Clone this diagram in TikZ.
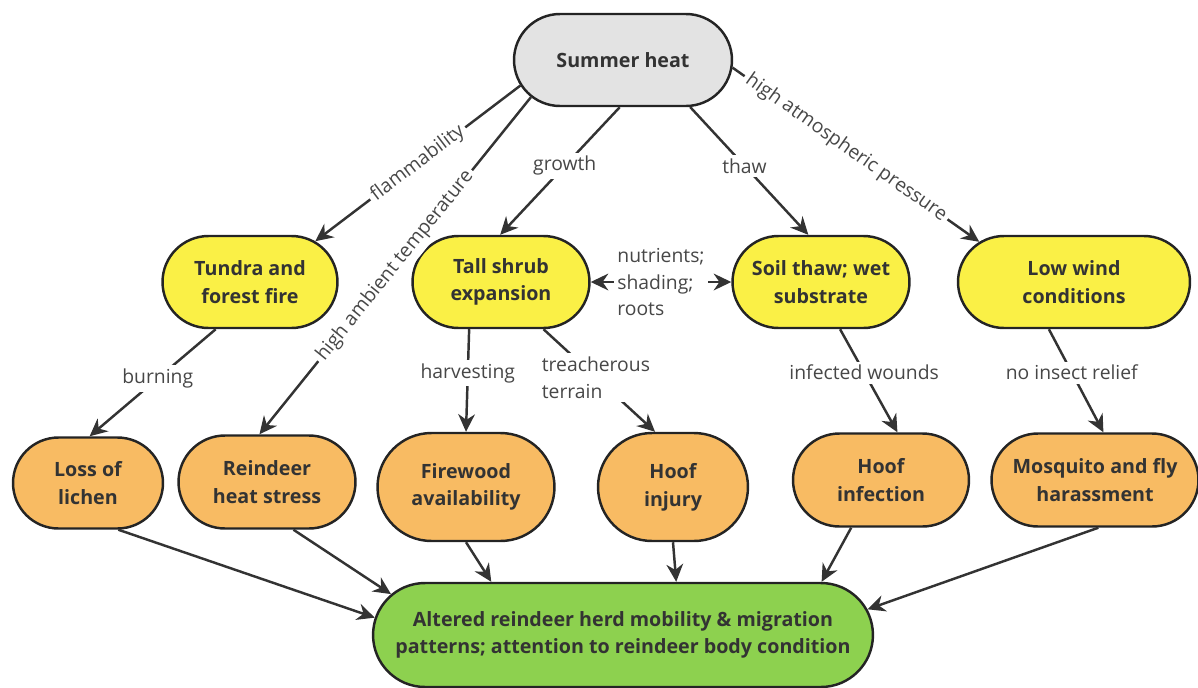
\documentclass[tikz,border=0pt]{standalone}
\usepackage{fontspec}
\setmainfont{Open Sans}
\usetikzlibrary{shapes.misc,arrows.meta}
\definecolor{heatgray}{HTML}{E3E3E3}
\definecolor{driveryellow}{HTML}{FAF046}
\definecolor{impactorange}{HTML}{F8BB63}
\definecolor{outcomegreen}{HTML}{8DD14F}
\definecolor{inkgray}{HTML}{333333}

\begin{document}
\begin{tikzpicture}[x=0.02cm,y=-0.02cm,
  >={Stealth[length=10pt,width=9.5pt]},
  box/.style={rounded rectangle, draw=inkgray!70!black, line width=1.4pt, inner sep=0pt,
    align=center, text=inkgray, font=\fontsize{11.2}{15.8}\selectfont\bfseries},
  lbl/.style={fill=white, text=inkgray!90, inner sep=2pt, font=\fontsize{11}{15.3}\selectfont},
  link/.style={draw=inkgray, line width=1.4pt, ->}]
\useasboundingbox (0,0) rectangle (1198,687);
% top
\node[box, fill=heatgray, minimum width=4.36cm, minimum height=1.84cm] (sh) at (623,60) {Summer heat};
% drivers
\node[box, fill=driveryellow, minimum width=3.5cm, minimum height=1.84cm] (tf) at (250,282) {Tundra and\\forest fire};
\node[box, fill=driveryellow, minimum width=3.54cm, minimum height=1.84cm] (ts) at (501,282) {Tall shrub\\expansion};
\node[box, fill=driveryellow, minimum width=3.54cm, minimum height=1.84cm] (st) at (821,282) {Soil thaw; wet\\substrate};
\node[box, fill=driveryellow, minimum width=4.64cm, minimum height=1.84cm] (lw) at (1074,282) {Low wind\\conditions};
% impacts
\node[box, fill=impactorange, minimum width=3.0cm, minimum height=1.82cm] (ll) at (88,483) {Loss of\\lichen};
\node[box, fill=impactorange, minimum width=3.54cm, minimum height=1.86cm] (rh) at (267,482) {Reindeer\\heat stress};
\node[box, fill=impactorange, minimum width=3.54cm, minimum height=2.16cm] (fw) at (466,487) {Firewood\\availability};
\node[box, fill=impactorange, minimum width=3.0cm, minimum height=2.16cm] (hi) at (673,487) {Hoof\\injury};
\node[box, fill=impactorange, minimum width=3.52cm, minimum height=1.86cm] (hf) at (881,480) {Hoof\\infection};
\node[box, fill=impactorange, minimum width=4.14cm, minimum height=1.86cm] (mq) at (1095,480) {Mosquito and fly\\harassment};
% outcome
\node[box, fill=outcomegreen, minimum width=10cm, minimum height=2.08cm] (ar) at (623,635) {Altered reindeer herd mobility \& migration\\patterns; attention to reindeer body condition};

\draw[link] (sh.194) -- node[lbl, sloped] {flammability} (tf.32);
\draw[link] (sh.202) -- node[lbl, sloped] {high ambient temperature} (rh.99);
\draw[link] (sh.266) -- node[lbl, pos=0.46] {growth} (ts.91);
\draw[link] (sh.325) -- node[lbl, pos=0.46] {thaw} (st.105);
\draw[link] (sh.356) -- node[lbl, sloped, pos=0.46] {high atmospheric pressure} (lw.157);
\draw[link, <->] (ts.east) -- node[lbl, align=left] {nutrients;\\shading;\\roots} (st.west);

\draw[link] (tf.234) -- node[lbl, pos=0.46] {burning} (ll.88);
\draw[link] (ts.236) -- node[lbl, pos=0.43] {harvesting} (fw.90);
\draw[link] (ts.312) -- node[lbl, pos=0.47, align=left] {treacherous\\terrain} (hi.108);
\draw[link] (st.292) -- node[lbl, pos=0.42] {infected wounds} (hf.71);
\draw[link] (lw.242) -- node[lbl, pos=0.42] {no insect relief} (mq.80);

\draw[link] (ll.303) -- (ar.176);
\draw[link] (rh.299) -- (ar.170);
\draw[link] (fw.270) -- (ar.158);
\draw[link] (hi.270) -- (ar.45);
\draw[link] (hf.238) -- (ar.15);
\draw[link] (mq.274) -- (ar.6);
\end{tikzpicture}
\end{document}
